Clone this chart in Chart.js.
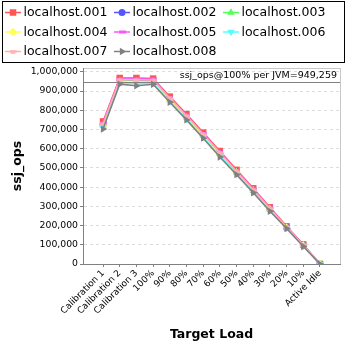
<!DOCTYPE html>
<html>
<head>
<meta charset="utf-8">
<script src="https://cdn.jsdelivr.net/npm/chart.js@4.4.1/dist/chart.umd.min.js"></script>
<style>
  html, body { margin: 0; padding: 0; background: #fff; }
  #wrap { width: 348px; height: 348px; }
</style>
</head>
<body>
<div id="wrap"><canvas id="chart" width="348" height="348"></canvas></div>
<script>
// categories de l'axe x
const loadLabels = ['Calibration 1', 'Calibration 2', 'Calibration 3', '100%', '90%', '80%', '70%',
  '60%', '50%', '40%', '30%', '20%', '10%', 'Active Idle'];

// valeurs ssj_ops par JVM
const host001 = [742000, 968000, 968000, 965000, 871000, 780000, 684000, 588000, 490000, 394000, 295000, 196000, 102000, 0];
const host002 = [724000, 955000, 953000, 951000, 858000, 766000, 671000, 575000, 479000, 384000, 287000, 190000, 98000, 0];
const host003 = [722000, 953000, 951000, 949000, 856000, 765000, 669000, 573000, 478000, 383000, 286000, 189000, 97000, 0];
const host004 = [718000, 950000, 948000, 946000, 853000, 762000, 667000, 570000, 476000, 381000, 285000, 189000, 96000, 0];
const host005 = [735000, 965000, 964000, 961000, 866000, 776000, 679000, 583000, 485000, 390000, 291000, 193000, 100000, 0];
const host006 = [710000, 943000, 938000, 939000, 847000, 755000, 660000, 563000, 470000, 376000, 280000, 187000, 94000, 0];
const host007 = [728000, 960000, 959000, 957000, 862000, 772000, 675000, 579000, 482000, 387000, 289000, 191000, 99000, 0];
const host008 = [702000, 936000, 928000, 935000, 842000, 750000, 655000, 557000, 465000, 371000, 275000, 185000, 91000, 0];

const seriesNames = ['localhost.001', 'localhost.002', 'localhost.003', 'localhost.004',
  'localhost.005', 'localhost.006', 'localhost.007', 'localhost.008'];
const seriesValues = [host001, host002, host003, host004, host005, host006, host007, host008];

// ticks de l'axe y
const yTicks = [0, 100000, 200000, 300000, 400000, 500000, 600000, 700000, 800000, 900000, 1000000];
const refValue = 949259;
const refText = 'ssj_ops@100% per JVM=949,259';

const FONT = '"DejaVu Sans", sans-serif';

// petites formes pour le rectangle et l'ellipse horizontaux
function makeShape(kind, color) {
  const c = document.createElement('canvas');
  c.width = 7; c.height = 4;
  const g = c.getContext('2d');
  g.fillStyle = color;
  if (kind === 'rect') {
    g.fillRect(0, 0.5, 7, 3);
  } else {
    g.beginPath();
    g.ellipse(3.5, 2, 3.5, 1.8, 0, 0, Math.PI * 2);
    g.fill();
  }
  return c;
}

const colors = ['#FF5555', '#5555FF', '#55FF55', '#FFFF55', '#FF55FF', '#55FFFF', '#FFAFAF', '#808080'];
const styles = [
  { pointStyle: 'rect', rotation: 0, radius: 4.6 },
  { pointStyle: 'circle', rotation: 0, radius: 3.5 },
  { pointStyle: 'triangle', rotation: 0, radius: 4.3 },
  { pointStyle: 'rectRot', rotation: 0, radius: 4.2 },
  { pointStyle: makeShape('rect', colors[4]), rotation: 0, radius: 4 },
  { pointStyle: 'triangle', rotation: 180, radius: 4.3 },
  { pointStyle: makeShape('ellipse', colors[6]), rotation: 0, radius: 4 },
  { pointStyle: 'triangle', rotation: 90, radius: 4.3 }
];

const datasets = seriesNames.map((name, i) => ({
  label: name,
  data: seriesValues[i].map((v, k) => ({ x: k, y: v })),
  borderColor: colors[i],
  backgroundColor: colors[i],
  borderWidth: 1.5,
  pointStyle: styles[i].pointStyle,
  pointRotation: styles[i].rotation,
  pointRadius: styles[i].radius,
  pointBorderWidth: 0,
  pointHoverRadius: styles[i].radius,
  order: 7 - i
}));

// fond, cadre du graphe et ligne de référence
const plotDecor = {
  id: 'plotDecor',
  beforeDraw(chart) {
    const { ctx, chartArea: a } = chart;
    ctx.save();
    ctx.fillStyle = '#fff';
    ctx.fillRect(0, 0, chart.width, chart.height);
    ctx.strokeStyle = '#c8c8c8';
    ctx.lineWidth = 1;
    ctx.strokeRect(a.left + 0.5, a.top + 0.5, a.right - a.left, a.bottom - a.top);
    ctx.restore();
  },
  afterDatasetsDraw(chart) {
    const { ctx, chartArea: a, scales } = chart;
    const y = Math.round(scales.y.getPixelForValue(refValue)) + 0.5;
    ctx.save();
    ctx.strokeStyle = '#808080';
    ctx.lineWidth = 1.2;
    ctx.beginPath();
    ctx.moveTo(a.left, y);
    ctx.lineTo(a.right, y);
    ctx.stroke();
    ctx.fillStyle = '#000';
    ctx.font = '9.5px ' + FONT;
    ctx.textAlign = 'right';
    ctx.textBaseline = 'bottom';
    ctx.fillText(refText, a.right - 3, y - 2);
    ctx.restore();
  },
  afterDraw(chart) {
    const ctx = chart.ctx;
    ctx.save();
    ctx.strokeStyle = '#000';
    ctx.lineWidth = 1;
    ctx.strokeRect(2.5, 1.5, 342, 61);
    ctx.font = '12.5px ' + FONT;
    ctx.textBaseline = 'middle';
    ctx.textAlign = 'left';
    const colX = [5, 114, 223];
    const rowY = [12.5, 32, 51.5];
    seriesNames.forEach((name, i) => {
      const x0 = colX[i % 3];
      const y0 = rowY[Math.floor(i / 3)];
      ctx.strokeStyle = colors[i];
      ctx.fillStyle = colors[i];
      ctx.lineWidth = 1.5;
      ctx.beginPath();
      ctx.moveTo(x0, y0);
      ctx.lineTo(x0 + 16, y0);
      ctx.stroke();
      Chart.helpers.drawPoint(ctx, {
        pointStyle: styles[i].pointStyle,
        rotation: styles[i].rotation,
        radius: styles[i].radius,
        borderWidth: 0
      }, x0 + 8, y0);
      ctx.fillStyle = '#000';
      ctx.fillText(name, x0 + 18.5, y0 + 0.5);
    });
    ctx.restore();
  }
};

new Chart(document.getElementById('chart').getContext('2d'), {
  type: 'line',
  data: { datasets: datasets },
  options: {
    responsive: false,
    animation: false,
    layout: { padding: { left: 0, top: 68, right: 8, bottom: 0 } },
    plugins: {
      legend: { display: false },
      tooltip: { enabled: false }
    },
    scales: {
      x: {
        type: 'linear',
        min: -1.2,
        max: 14.2,
        afterBuildTicks: (s) => { s.ticks = loadLabels.map((_, i) => ({ value: i })); },
        afterFit: (s) => { s.height = 84; },
        ticks: {
          autoSkip: false,
          minRotation: 45,
          maxRotation: 45,
          padding: 1,
          color: '#000',
          font: { family: FONT, size: 9 },
          callback: (v) => loadLabels[v]
        },
        grid: { display: true, drawOnChartArea: false, drawTicks: true, tickLength: 3, color: '#808080' },
        border: { display: true, color: '#808080', width: 1 },
        title: {
          display: true,
          text: 'Target Load',
          color: '#000',
          font: { family: FONT, size: 12.5, weight: 'bold' },
          padding: { top: 0, bottom: 6 }
        }
      },
      y: {
        type: 'linear',
        min: 0,
        max: 1020000,
        afterBuildTicks: (s) => { s.ticks = yTicks.map(v => ({ value: v })); },
        afterFit: (s) => { s.width = 83; },
        ticks: {
          padding: 2,
          color: '#000',
          font: { family: FONT, size: 9.3 },
          callback: (v) => v.toLocaleString('en-US')
        },
        grid: {
          color: '#dcdcdc',
          tickColor: '#808080',
          tickLength: 3,
          lineWidth: 1
        },
        border: { display: true, color: '#808080', width: 1, dash: [3, 3] },
        title: {
          display: true,
          text: 'ssj_ops',
          color: '#000',
          font: { family: FONT, size: 12.5, weight: 'bold' },
          padding: { top: 10, bottom: 0 }
        }
      }
    }
  },
  plugins: [plotDecor]
});
</script>
</body>
</html>
